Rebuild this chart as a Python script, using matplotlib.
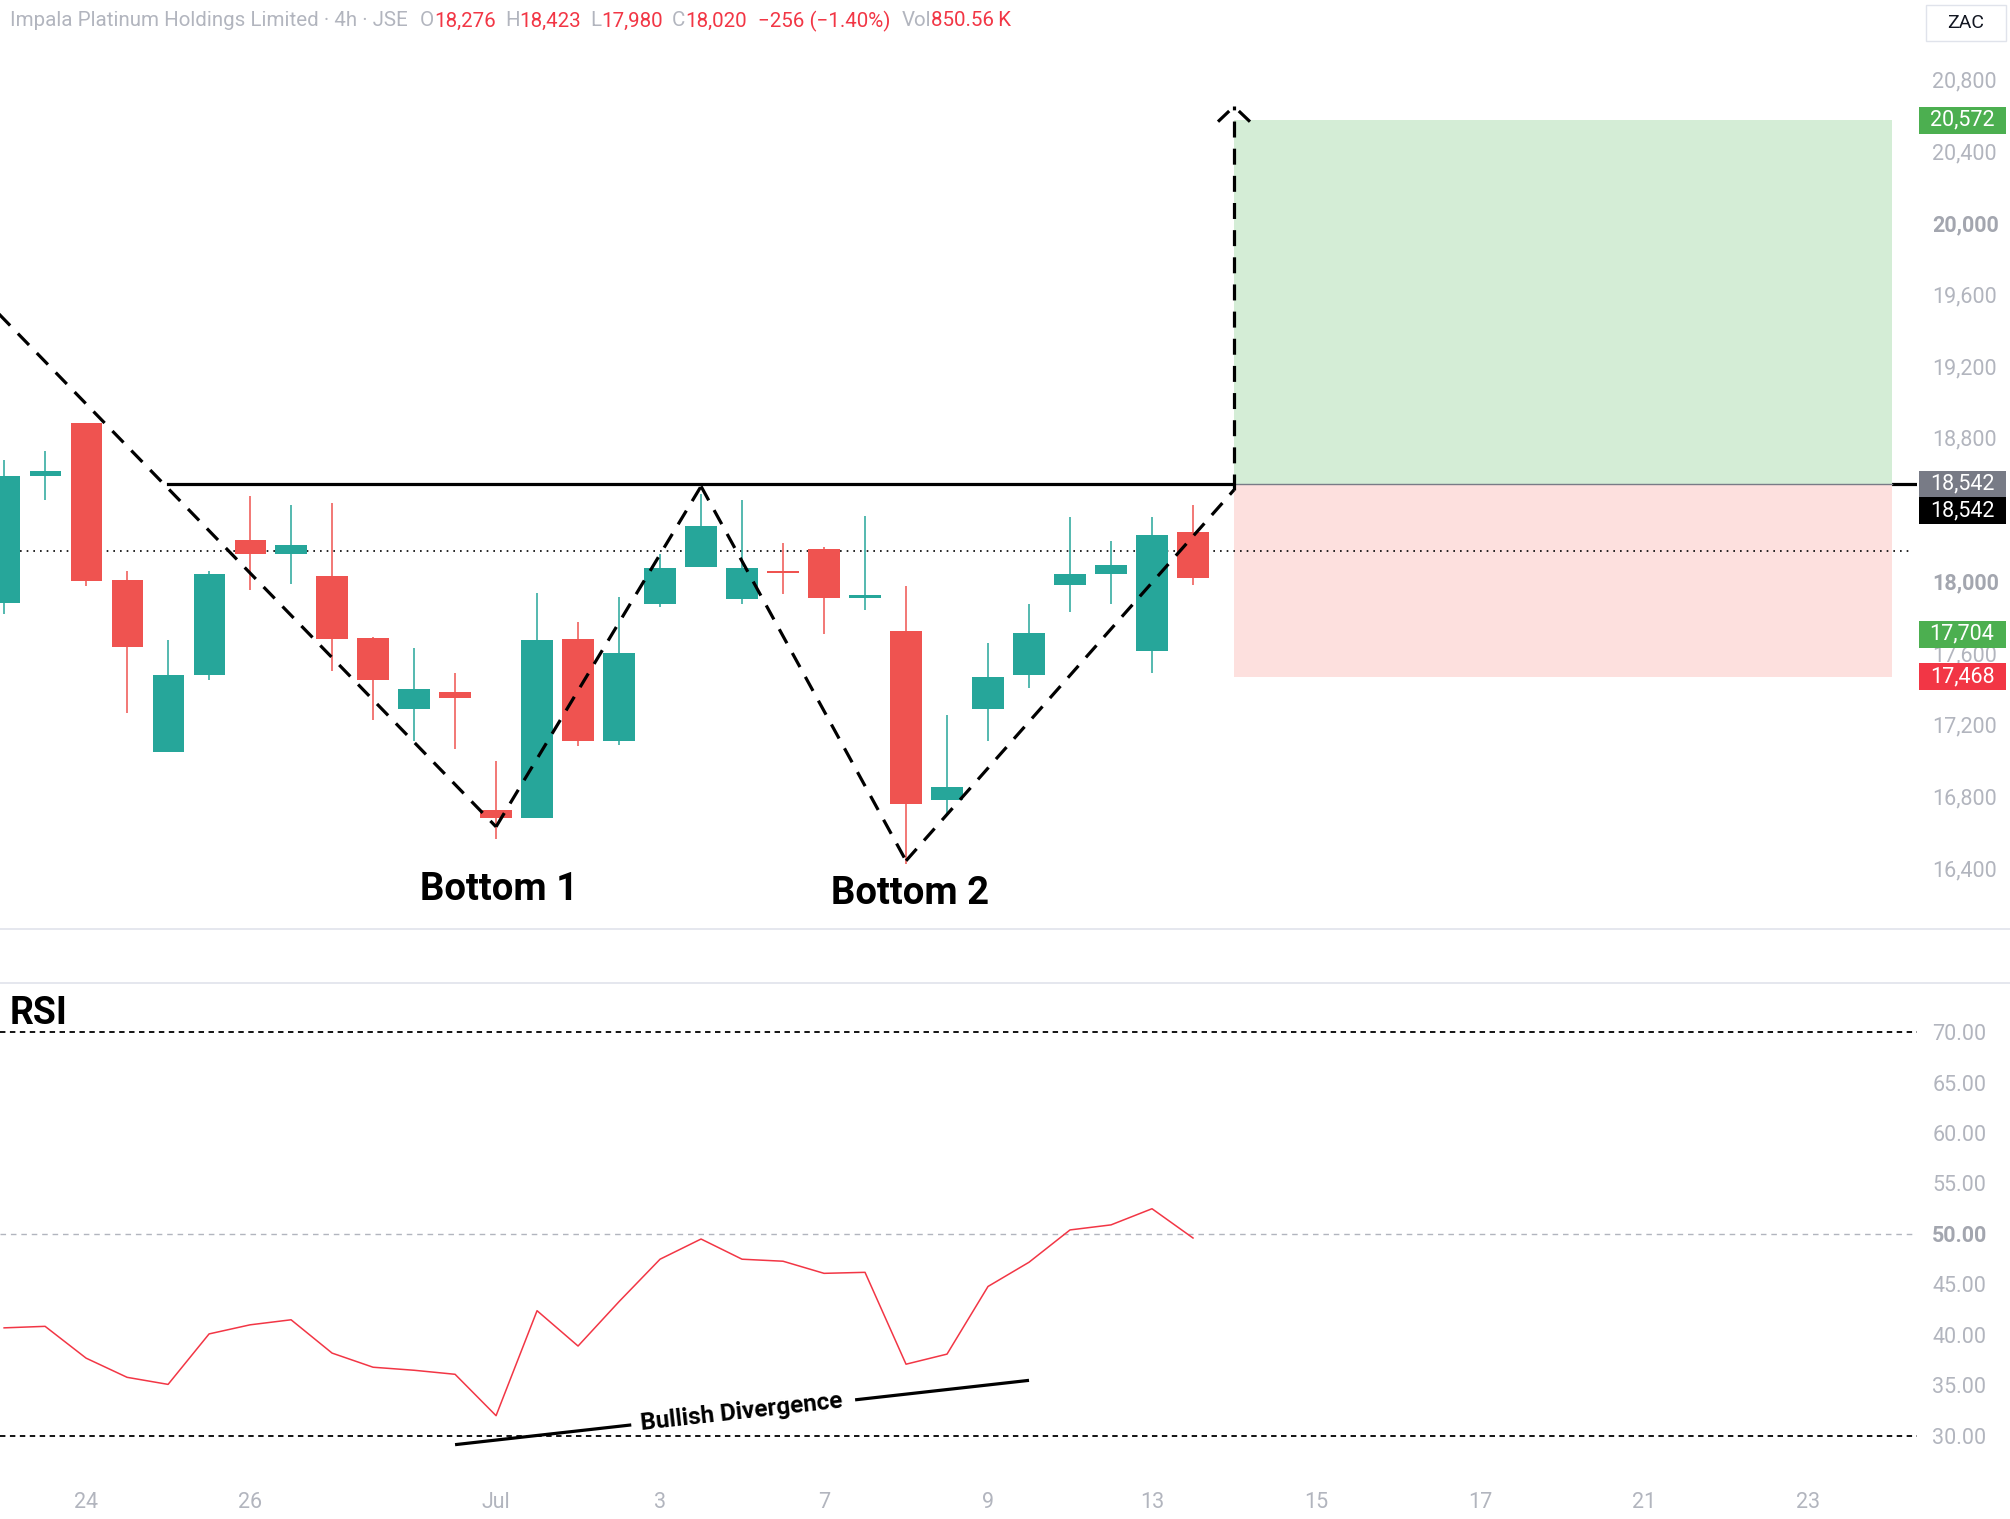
import numpy as np
import matplotlib.pyplot as plt
from matplotlib.patches import Rectangle
from matplotlib.lines import Line2D

plt.rcParams['font.family'] = ['Roboto', 'DejaVu Sans']

# Impala Platinum, 4h bars
opens = [17878, 18589, 18883, 18007, 17045, 17476, 18230, 18151, 18029, 17684,
         17289, 17382, 16722, 16679, 17677, 17110, 17871, 18079, 17899, 18057,
         18179, 17907, 17720, 16779, 17289, 17476, 17978, 18043, 17612, 18276]
highs = [18675, 18725, 18883, 18057, 17670, 18057, 18474, 18423, 18438, 17690,
         17626, 17490, 16995, 17935, 17770, 17914, 18151, 18488, 18452, 18215,
         18190, 18366, 17971, 17253, 17655, 17871, 18359, 18222, 18359, 18423]
lows = [17820, 18452, 17975, 17267, 17045, 17447, 17950, 17986, 17497, 17224,
        17110, 17066, 16564, 16679, 17081, 17088, 17856, 18079, 17871, 17928,
        17705, 17842, 16420, 16693, 17110, 17404, 17827, 17871, 17490, 17980]
closes = [18589, 18617, 18000, 17634, 17476, 18043, 18151, 18201, 17677, 17447,
          17397, 17346, 16679, 17670, 17110, 17598, 18072, 18309, 18072, 18046,
          17907, 17921, 16758, 16851, 17468, 17713, 18043, 18093, 18258, 18020]
rsi = [40.7, 40.85, 37.7, 35.8, 35.1, 40.1, 41.0, 41.5, 38.2, 36.8,
       36.5, 36.1, 32.0, 42.4, 38.9, 43.3, 47.5, 49.5, 47.5, 47.3,
       46.1, 46.2, 37.1, 38.1, 44.8, 47.2, 50.4, 50.9, 52.5, 49.6]

date_pos = [2, 6, 12, 16, 20, 24, 28, 32, 36, 40, 44]
date_labels = ['24', '26', 'Jul', '3', '7', '9', '13', '15', '17', '21', '23']
price_ticks = [16400, 16800, 17200, 17600, 18000, 18800, 19200, 19600, 20000, 20400, 20800]
rsi_ticks = [30, 35, 40, 45, 50, 55, 60, 65, 70]

# drawings
path_x = [-0.5, 12, 17, 22, 30, 30]
path_y = [19580, 16630, 18530, 16440, 18510, 20650]
neckline = 18542
dotted_level = 18170
entry, target, stop = 18542, 20572, 17468
box_x0, box_x1 = 30, 46.05
scale_labels = [(20572, '20,572', '#4caf50'), (18542, '18,542', '#787b86'),
                (18394, '18,542', '#000000'), (17704, '17,704', '#4caf50'),
                (17468, '17,468', '#f23645')]
div_x = [11.0, 25.0]
div_y = [29.13, 35.5]

TEAL = '#26a69a'
RED = '#ef5350'
TXT_RED = '#f23645'
GRAY = '#b2b5be'

W, H = 2010, 1519
def fx(px):
    return px / W
def fy(py):
    return 1 - py / H

fig = plt.figure(figsize=(W / 100, H / 100), dpi=100)
fig.patch.set_facecolor('white')

# ---- price pane
ax = fig.add_axes([0, fy(928), fx(1917), 928 / H])
ax.set_xlim(-0.1, 46.66)
ax.set_ylim(16065, 21244)
for s in ax.spines.values():
    s.set_visible(False)

x = np.arange(len(opens))
o = np.array(opens)
c = np.array(closes)
cols = np.where(c >= o, TEAL, RED)
ax.vlines(x, lows, highs, colors=cols, lw=1.1, zorder=3)
ax.bar(x, np.maximum(np.abs(c - o), 10), bottom=np.minimum(o, c), width=0.76,
       color=cols, linewidth=0, zorder=3.1)

ax.plot([4, 46.66], [neckline, neckline], color='black', lw=2.3, zorder=1)
ax.add_patch(Rectangle((box_x0, entry), box_x1 - box_x0, target - entry,
                       facecolor='#d4edd6', edgecolor='none', zorder=2))
ax.add_patch(Rectangle((box_x0, stop), box_x1 - box_x0, entry - stop,
                       facecolor='#fde0de', edgecolor='none', zorder=2))
ax.plot([box_x0, box_x1], [entry, entry], color='#787b86', lw=1.0, zorder=2.1)
ax.plot([-0.1, 46.5], [dotted_level, dotted_level], color='black', lw=1.2,
        dashes=(1, 3), zorder=2.5)

for i in range(len(path_x) - 1):
    ax.plot(path_x[i:i + 2], path_y[i:i + 2], color='black', lw=2.3,
            dashes=(5, 3.5), dash_capstyle='butt', zorder=4)
tip_x, tip_y = path_x[-1], path_y[-1]
for wx in (tip_x - 0.39, tip_x + 0.39):
    ax.plot([wx, tip_x - (tip_x - wx) * 0.3], [tip_y - 85, tip_y - 85 * 0.3],
            color='black', lw=2.3, solid_capstyle='butt', zorder=4)

ax.text(12.07, 16280, 'Bottom 1', fontsize=27.5, fontweight='bold', ha='center', va='center')
ax.text(22.1, 16258, 'Bottom 2', fontsize=27.5, fontweight='bold', ha='center', va='center')

ax.set_xticks([])
ax.yaxis.tick_right()
ax.set_yticks(price_ticks)
ax.set_yticklabels([f'{v:,}' for v in price_ticks])
ax.tick_params(axis='y', length=0, pad=11, labelsize=15.5, labelcolor=GRAY)
for lab, v in zip(ax.get_yticklabels(), price_ticks):
    if v in (18000, 20000):
        lab.set_fontweight('bold')
        lab.set_color('#a3a6af')

# price scale labels
sax = fig.add_axes([fx(1917), fy(928), fx(2010) - fx(1917), 928 / H])
sax.set_xlim(1917, 2010)
sax.set_ylim(ax.get_ylim())
sax.axis('off')
for y, lab, col in scale_labels:
    sax.add_patch(Rectangle((1919, y - 75), 87, 150, facecolor=col, edgecolor='none'))
    sax.text(1962, y, lab, color='white', fontsize=15.5, ha='center', va='center')

# ---- RSI pane
rax = fig.add_axes([0, fy(1470), fx(1917), (1470 - 983) / H])
rax.set_xlim(ax.get_xlim())
rax.set_ylim(26.62, 74.86)
for s in rax.spines.values():
    s.set_visible(False)
rax.plot([-0.1, 46.66], [70, 70], color='black', lw=1.3, dashes=(3, 2.5))
rax.plot([-0.1, 46.66], [30, 30], color='black', lw=1.3, dashes=(3, 2.5))
rax.plot([-0.1, 46.66], [50, 50], color=GRAY, lw=1.0, dashes=(4, 3.5))
rax.plot(x, rsi, color=TXT_RED, lw=1.1, zorder=3)

dx = div_x[1] - div_x[0]
dy = div_y[1] - div_y[0]
for t0, t1 in [(0, 0.307), (0.697, 1)]:
    rax.plot([div_x[0] + t0 * dx, div_x[0] + t1 * dx],
             [div_y[0] + t0 * dy, div_y[0] + t1 * dy],
             color='black', lw=2.3, solid_capstyle='butt', zorder=4)
p0 = rax.transData.transform((div_x[0], div_y[0]))
p1 = rax.transData.transform((div_x[1], div_y[1]))
ang = np.degrees(np.arctan2(p1[1] - p0[1], p1[0] - p0[0]))
rax.text(div_x[0] + 0.5 * dx, div_y[0] + 0.5 * dy, 'Bullish Divergence',
         fontsize=17.5, fontweight='bold', rotation=ang, rotation_mode='anchor',
         ha='center', va='center', zorder=5)

rax.yaxis.tick_right()
rax.set_yticks(rsi_ticks)
rax.set_yticklabels([f'{v:.2f}' for v in rsi_ticks])
rax.tick_params(axis='y', length=0, pad=11, labelsize=15.5, labelcolor=GRAY)
for lab, v in zip(rax.get_yticklabels(), rsi_ticks):
    if v == 50:
        lab.set_fontweight('bold')
        lab.set_color('#a3a6af')
rax.set_xticks(date_pos)
rax.set_xticklabels(date_labels)
rax.tick_params(axis='x', length=0, pad=16, labelsize=15.5, labelcolor=GRAY)

fig.text(fx(10), fy(1013), 'RSI', fontsize=27, fontweight='bold', va='center', ha='left')

# pane separators
for py in (929, 983):
    fig.add_artist(Line2D([0, 1], [fy(py), fy(py)], color='#e0e3eb', lw=1.2,
                          transform=fig.transFigure))

# ZAC currency box
fig.add_artist(Rectangle((fx(1926), fy(41)), fx(80), 36 / H, facecolor='white',
                         edgecolor='#e0e3eb', lw=1.0, transform=fig.transFigure))
fig.text(fx(1966), fy(23), 'ZAC', fontsize=14, color='#131722', ha='center', va='center')

# header line
header = [('Impala Platinum Holdings Limited · 4h · JSE', GRAY, 0),
          ('O', GRAY, 12), ('18,276', TXT_RED, 0),
          ('H', GRAY, 9), ('18,423', TXT_RED, 0),
          ('L', GRAY, 9), ('17,980', TXT_RED, 0),
          ('C', GRAY, 9), ('18,020', TXT_RED, 0),
          ('\u2212256 (\u22121.40%)', TXT_RED, 11),
          ('Vol', GRAY, 11), ('850.56\u2009K', TXT_RED, 0)]
renderer = fig.canvas.get_renderer()
xpos = 10
for txt, col, gap in header:
    xpos += gap
    t = fig.text(fx(xpos), fy(21), txt, color=col, fontsize=14.8, ha='left', va='center')
    xpos = t.get_window_extent(renderer).x1

fig.savefig('out.png', dpi=100)
